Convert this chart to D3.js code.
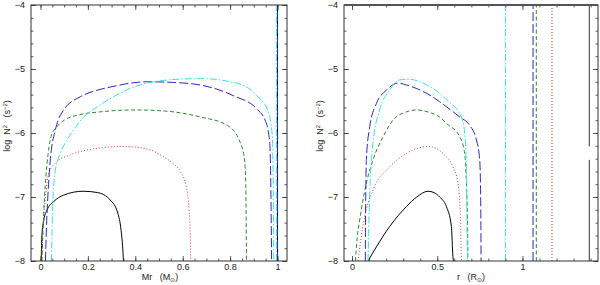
<!DOCTYPE html>
<html><head><meta charset="utf-8">
<script src="https://cdn.jsdelivr.net/npm/d3@7"></script>
<style>body{margin:0;background:#fff}svg{display:block}</style>
</head><body>
<svg id="c" width="600" height="285"></svg>
<script>
// ---- Data ----
const seriesNames = ["black","red","green","blue","cyan"];
// Left panel: x = Mr (Msun), y = log N^2
const leftBlack = [[0.003,-8],[0.006,-7.6],[0.014,-7.36],[0.028,-7.2],[0.056,-7.07],[0.098,-6.97],[0.18,-6.91],[0.24,-6.93],[0.295,-7.05],[0.326,-7.25],[0.34,-7.52],[0.347,-7.8],[0.35,-8]];
const leftRed = [[0.005,-8],[0.01,-7.5],[0.021,-7.0],[0.035,-6.63],[0.063,-6.47],[0.127,-6.34],[0.24,-6.24],[0.35,-6.21],[0.45,-6.25],[0.51,-6.35],[0.56,-6.48],[0.59,-6.6],[0.615,-6.84],[0.627,-7.2],[0.632,-7.6],[0.634,-8]];
const leftGreen = [[0.006,-8],[0.011,-7.5],[0.017,-7.0],[0.028,-6.47],[0.045,-6.05],[0.07,-5.9],[0.1,-5.8],[0.17,-5.71],[0.25,-5.67],[0.4,-5.64],[0.535,-5.66],[0.675,-5.75],[0.788,-5.88],[0.844,-6.16],[0.861,-6.42],[0.866,-6.8],[0.869,-8]];
const leftBlue = [[0.021,-8],[0.025,-7.5],[0.031,-7.0],[0.042,-6.4],[0.063,-5.95],[0.098,-5.64],[0.17,-5.43],[0.24,-5.33],[0.31,-5.27],[0.38,-5.22],[0.45,-5.2],[0.56,-5.21],[0.675,-5.25],[0.816,-5.42],[0.914,-5.63],[0.95,-5.82],[0.962,-6.0],[0.968,-6.2],[0.972,-6.9],[0.975,-8]];
const leftCyan = [[0.046,-8],[0.049,-7.5],[0.053,-7.0],[0.062,-6.6],[0.075,-6.4],[0.098,-6.2],[0.14,-5.95],[0.17,-5.8],[0.24,-5.59],[0.31,-5.43],[0.38,-5.3],[0.45,-5.22],[0.54,-5.17],[0.675,-5.15],[0.816,-5.21],[0.914,-5.42],[0.963,-5.69],[0.978,-6.05],[0.982,-6.9],[0.984,-8]];
// surface spikes (left panel: all at Mr = 1)
const leftSurface = [1.0, 1.0, 1.0, 1.0, 0.995];

// Right panel: x = r (Rsun)
const rightBlack = [[0.094,-8],[0.143,-7.78],[0.221,-7.46],[0.319,-7.15],[0.38,-7.0],[0.446,-6.91],[0.48,-6.93],[0.514,-7.0],[0.554,-7.15],[0.583,-7.46],[0.592,-7.93],[0.595,-8]];
const rightRed = [[0.035,-8],[0.05,-7.7],[0.074,-7.31],[0.123,-6.89],[0.221,-6.53],[0.319,-6.32],[0.45,-6.21],[0.534,-6.32],[0.592,-6.53],[0.622,-6.79],[0.636,-7.31],[0.641,-7.93],[0.642,-8]];
const rightGreen = [[0.02,-8],[0.03,-7.65],[0.045,-7.36],[0.084,-6.79],[0.123,-6.42],[0.182,-6.06],[0.24,-5.8],[0.319,-5.67],[0.378,-5.64],[0.456,-5.68],[0.514,-5.75],[0.554,-5.85],[0.632,-6.06],[0.661,-6.32],[0.671,-6.79],[0.678,-7.5],[0.68,-8]];
const rightBlue = [[0.078,-8],[0.079,-7.4],[0.081,-6.9],[0.084,-6.42],[0.104,-5.9],[0.143,-5.54],[0.202,-5.33],[0.27,-5.22],[0.319,-5.25],[0.416,-5.35],[0.514,-5.51],[0.554,-5.59],[0.632,-5.75],[0.69,-5.88],[0.73,-6.11],[0.749,-6.42],[0.755,-7.05],[0.757,-8]];
const rightCyan = [[0.094,-8],[0.098,-7.5],[0.104,-6.94],[0.123,-6.16],[0.162,-5.64],[0.221,-5.33],[0.28,-5.17],[0.338,-5.16],[0.416,-5.22],[0.514,-5.38],[0.554,-5.48],[0.641,-5.75],[0.661,-6.0],[0.671,-6.53],[0.677,-7.93],[0.678,-8]];
// surface radii (right panel)
const rightSurface = [1.392, 1.173, 1.081, 1.062, 0.90];
// black surface line has a gap in log N^2
const blackGap = [-6.21, -6.42];

const yTicks = [-8,-7,-6,-5,-4];
const leftXTicks = [0,0.2,0.4,0.6,0.8,1];
const rightXTicks = [0,0.5,1];

// ---- Styles ----
const colors = {black:"#000000", red:"#e03a3a", green:"#2e8b2e", blue:"#2a2ab8", cyan:"#3ee0e0"};
const dashes = {black:null, red:"1,2", green:"4,2.5", blue:"9,3", cyan:"7,2,1.5,2"};

const svg = d3.select("#c");
const font = "'Liberation Sans', Arial, sans-serif";
const yTop = 5, yBot = 261;

function panel(opts){
  const x = d3.scaleLinear().domain(opts.xdom).range([opts.x0, opts.x1]);
  const y = d3.scaleLinear().domain([-8,-4]).range([yBot, yTop]);
  const g = svg.append("g");
  const cid = "clip" + opts.id;
  svg.append("clipPath").attr("id", cid).append("rect")
    .attr("x", opts.x0).attr("y", yTop).attr("width", opts.x1-opts.x0).attr("height", yBot-yTop);

  const curves = g.append("g").attr("clip-path", `url(#${cid})`);
  const line = d3.line().x(d=>x(d[0])).y(d=>y(d[1])).curve(d3.curveMonotoneX);
  const vline = d3.line().defined(d=>d[1]!==null).x(d=>x(d[0])).y(d=>y(d[1]));

  opts.series.forEach((s,i)=>{
    const name = seriesNames[i];
    const p = curves.append("path").attr("d", line(s)).attr("fill","none")
      .attr("stroke", colors[name]).attr("stroke-width", 1);
    if (dashes[name]) p.attr("stroke-dasharray", dashes[name]);
  });
  // surface spikes (draw in order: red, green, black, blue, cyan)
  [1,2,0,3,4].forEach(i=>{
    const sx = opts.surface[i];
    const name = seriesNames[i];
    let pts = [[sx,-8],[sx,-4]];
    if (opts.gap && name==="black") pts = [[sx,-8],[sx,opts.gap[1]],[sx,null],[sx,opts.gap[0]],[sx,-4]];
    const p = curves.append("path").attr("d", vline(pts)).attr("fill","none")
      .attr("stroke", colors[name]).attr("stroke-width", opts.gap && name==="black" ? 0.8 : 1);
    if (dashes[name]) p.attr("stroke-dasharray", dashes[name]);
  });

  // axes with inward ticks
  const minorX = d3.range(opts.xdom[0], opts.xdom[1]+1e-9, opts.minorStep)
    .map(v=>Math.round(v/opts.minorStep)*opts.minorStep).filter(v=>v>=opts.xdom[0]&&v<=opts.xdom[1]);
  const minorY = d3.range(-8, -4+1e-9, 0.2);
  const fmtX = d => String(+d.toFixed(2));
  const fmtY = d => "\u2212" + Math.abs(d);

  const axes = [
    [d3.axisBottom(x).tickValues(opts.xticks).tickSize(-5).tickPadding(3).tickFormat(fmtX), `translate(0,${yBot})`],
    [d3.axisBottom(x).tickValues(minorX).tickSize(-2.5).tickFormat(""), `translate(0,${yBot})`],
    [d3.axisTop(x).tickValues(opts.xticks).tickSize(-5).tickFormat(""), `translate(0,${yTop})`],
    [d3.axisTop(x).tickValues(minorX).tickSize(-2.5).tickFormat(""), `translate(0,${yTop})`],
    [d3.axisLeft(y).tickValues(yTicks).tickSize(-5).tickPadding(6).tickFormat(fmtY), `translate(${opts.x0},0)`],
    [d3.axisLeft(y).tickValues(minorY).tickSize(-2.5).tickFormat(""), `translate(${opts.x0},0)`],
    [d3.axisRight(y).tickValues(yTicks).tickSize(-5).tickFormat(""), `translate(${opts.x1},0)`],
    [d3.axisRight(y).tickValues(minorY).tickSize(-2.5).tickFormat(""), `translate(${opts.x1},0)`]
  ];
  axes.forEach(([ax,tr])=>{
    const a = g.append("g").attr("transform", tr).call(ax);
    a.select(".domain").remove();
    a.selectAll("line").attr("stroke","#333").attr("stroke-width",0.8);
    a.selectAll("text").attr("font-family", font).attr("font-size", 9).attr("fill","#222");
  });
  g.append("rect").attr("x", opts.x0).attr("y", yTop).attr("width", opts.x1-opts.x0).attr("height", yBot-yTop)
    .attr("fill","none").attr("stroke","#333").attr("stroke-width", 1);
  if (opts.thickTop) g.append("line").attr("x1",opts.x0).attr("x2",opts.x1).attr("y1",yTop).attr("y2",yTop)
    .attr("stroke","#555").attr("stroke-width",2);

  // y label
  const yl = g.append("text").attr("transform", `translate(${opts.ylabX},${opts.ylabY}) rotate(-90)`)
    .attr("text-anchor","middle").attr("font-family", font).attr("font-size", 9).attr("fill","#222");
  yl.append("tspan").text("log\u00a0\u00a0N");
  yl.append("tspan").attr("dy",-3).attr("font-size",6).text("2");
  yl.append("tspan").attr("dy",3).text("\u00a0\u00a0\u00a0(s");
  yl.append("tspan").attr("dy",-3).attr("font-size",6).text("\u22122");
  yl.append("tspan").attr("dy",3).text(")");

  // x label
  const xl = g.append("text").attr("x", opts.xlabX).attr("y", 280)
    .attr("text-anchor","middle").attr("font-family", font).attr("font-size", 9).attr("fill","#222");
  xl.append("tspan").text(opts.xlab + "\u00a0\u00a0\u00a0(" + opts.unit);
  xl.append("tspan").attr("dy",2).attr("font-size",6).text("\u2299");
  xl.append("tspan").attr("dy",-2).text(")");
}

panel({id:"L", xdom:[-0.04,1.04], x0:31, x1:287, xticks:leftXTicks, minorStep:0.05,
  series:[leftBlack,leftRed,leftGreen,leftBlue,leftCyan], surface:leftSurface,
  ylabX:10, ylabY:126, xlabX:160, xlab:"Mr", unit:"M"});
panel({id:"R", xdom:[-0.047,1.443], x0:344, x1:598, xticks:rightXTicks, minorStep:0.1,
  series:[rightBlack,rightRed,rightGreen,rightBlue,rightCyan], surface:rightSurface, gap:blackGap,
  thickTop:true, ylabX:323, ylabY:126, xlabX:471, xlab:"r", unit:"R"});
</script>
</body></html>
